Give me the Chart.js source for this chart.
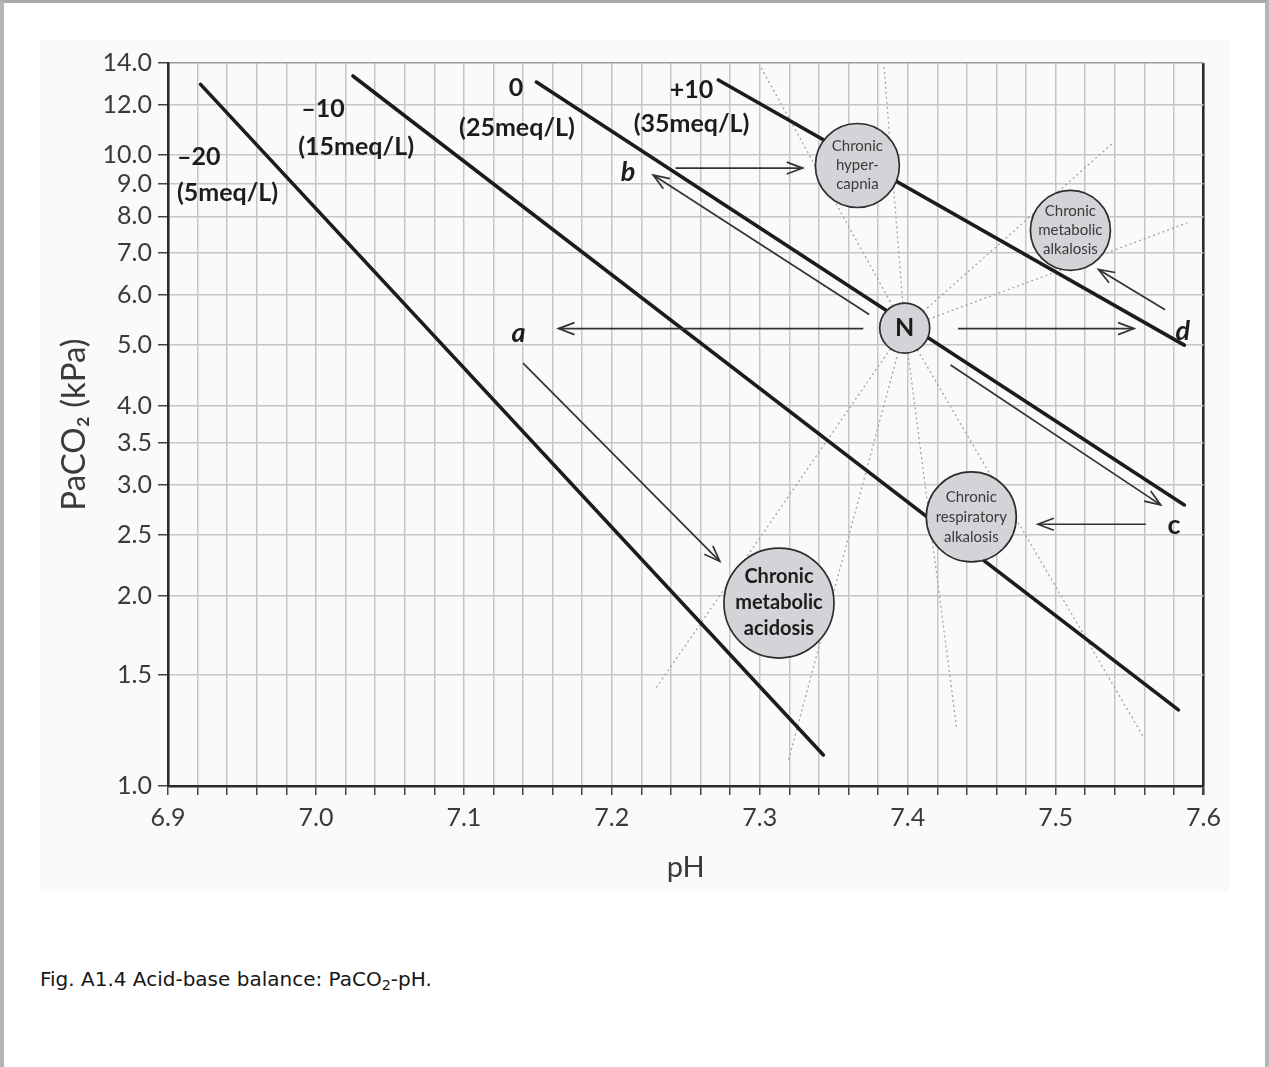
<!DOCTYPE html>
<html>
<head>
<meta charset="utf-8">
<title>Acid-base balance: PaCO2-pH</title>
<script src="https://cdn.jsdelivr.net/npm/chart.js@4.4.1/dist/chart.umd.min.js"></script>
<style>
  html, body { margin: 0; padding: 0; background: #fff; }
  body { width: 1269px; height: 1067px; position: relative; overflow: hidden; }
  .frame { position: absolute; left: 0; top: 0; width: 1269px; height: 1067px; box-sizing: border-box;
           border-top: 3px solid #a9a9a9; border-left: 4px solid #b5b5b5; border-right: 4px solid #b5b5b5; }
  .figure { position: absolute; left: 40px; top: 40px; width: 1189px; height: 852px; background: #fafafa; }
  .caption { position: absolute; left: 40px; top: 967px; font: 20px "DejaVu Sans", sans-serif; color: #161616; }
  .caption sub { font-size: 0.72em; vertical-align: -0.25em; }
</style>
</head>
<body>
<div class="frame"></div>
<div class="figure"><canvas id="acidBase"></canvas></div>
<div class="caption">Fig. A1.4 Acid-base balance: PaCO<sub>2</sub>-pH.</div>
<script>
/* DATA */
const phTicks = [6.9, 7.0, 7.1, 7.2, 7.3, 7.4, 7.5, 7.6];
const paco2Ticks = [1.0, 1.5, 2.0, 2.5, 3.0, 3.5, 4.0, 5.0, 6.0, 7.0, 8.0, 9.0, 10.0, 12.0, 14.0];

// base excess lines (straight on the log axis, so two ends are enough)
const excessNames = ['–20', '–10', '0', '+10'];
const bicarbNames = ['(5meq/L)', '(15meq/L)', '(25meq/L)', '(35meq/L)'];
const excessStartPH = [6.922, 7.025, 7.149, 7.272];
const excessStartPaCO2 = [12.95, 13.35, 13.06, 13.16];
const excessEndPH = [7.343, 7.583, 7.587, 7.587];
const excessEndPaCO2 = [1.12, 1.32, 2.79, 5.00];

// dotted bands, all leaving the normal point
const normalPH = 7.398;
const normalPaCO2 = 5.32;
const bandEndPH = [7.301, 7.384, 7.538, 7.589, 7.229, 7.319, 7.433, 7.559];
const bandEndPaCO2 = [13.75, 13.85, 10.42, 7.81, 1.42, 1.09, 1.24, 1.20];

// states
const stateNames = [
  ['N'],
  ['Chronic', 'hyper-', 'capnia'],
  ['Chronic', 'metabolic', 'alkalosis'],
  ['Chronic', 'respiratory', 'alkalosis'],
  ['Chronic', 'metabolic', 'acidosis']
];
const statePH = [7.398, 7.366, 7.510, 7.443, 7.313];
const statePaCO2 = [5.32, 9.63, 7.60, 2.67, 1.95];

// arrows N -> a -> ..., etc.
const arrowFromPH = [7.370, 7.140, 7.374, 7.243, 7.434, 7.574, 7.429, 7.561];
const arrowFromPaCO2 = [5.31, 4.68, 5.59, 9.54, 5.31, 5.69, 4.65, 2.60];
const arrowToPH = [7.164, 7.273, 7.228, 7.329, 7.553, 7.529, 7.571, 7.488];
const arrowToPaCO2 = [5.31, 2.27, 9.30, 9.54, 5.31, 6.59, 2.79, 2.60];

const pathNames = ['a', 'b', 'c', 'd'];
const pathPH = [7.137, 7.211, 7.580, 7.586];
const pathPaCO2 = [5.22, 9.41, 2.59, 5.25];

/* PLACEMENT / STYLE */
// where the line captions sit (pH, PaCO2 of the text centre)
const excessLabelSpots = [
  { ph: 6.906, top: 9.93, bottom: 8.71, align: 'left', phBottom: 6.906 },
  { ph: 6.990, top: 11.84, bottom: 10.30, align: 'left', phBottom: 6.988 },
  { ph: 7.1352, top: 12.78, bottom: 11.04, align: 'center', phBottom: 7.1359 },
  { ph: 7.2539, top: 12.69, bottom: 11.21, align: 'center', phBottom: 7.2539 }
];
const stateRadius = [25, 42, 40, 45, 55];
const stateFonts = ['bold 25px Lato', '15px Lato', '15px Lato', '15px Lato', 'bold 20px Lato'];
const stateLineGap = [0, 19, 19, 20, 26];
const pathFonts = ['italic bold 27px Lato', 'italic bold 27px Lato', 'bold 27px Lato', 'italic bold 27px Lato'];

const ink = '#1c1c1c';
const gridGrey = '#c6c6c6';

/* DATASETS */
const datasets = [];

bandEndPH.forEach((ph, i) => {
  datasets.push({
    data: [{ x: normalPH, y: normalPaCO2 }, { x: ph, y: bandEndPaCO2[i] }],
    borderColor: '#a3a3a3',
    borderWidth: 1.3,
    borderDash: [2, 3],
    pointRadius: 0,
    order: 3
  });
});

excessStartPH.forEach((ph, i) => {
  datasets.push({
    data: [{ x: ph, y: excessStartPaCO2[i] }, { x: excessEndPH[i], y: excessEndPaCO2[i] }],
    borderColor: ink,
    borderWidth: 3.6,
    borderCapStyle: 'round',
    pointRadius: 0,
    order: 2
  });
});

arrowFromPH.forEach((ph, i) => {
  datasets.push({
    data: [{ x: ph, y: arrowFromPaCO2[i] }, { x: arrowToPH[i], y: arrowToPaCO2[i] }],
    borderColor: '#333',
    borderWidth: 1.7,
    pointRadius: 0,
    order: 1
  });
});

datasets.push({
  type: 'scatter',
  data: statePH.map((ph, i) => ({ x: ph, y: statePaCO2[i] })),
  pointRadius: stateRadius,
  backgroundColor: '#d4d4d8',
  borderColor: '#2e2e2e',
  borderWidth: 1.7,
  order: 0
});

/* TEXT + ARROWHEADS */
const figureText = {
  id: 'figureText',
  afterDatasetsDraw(chart) {
    const { ctx } = chart;
    const x = chart.scales.x;
    const y = chart.scales.y;
    ctx.save();

    // open arrowheads
    ctx.strokeStyle = '#333';
    ctx.lineWidth = 1.7;
    arrowToPH.forEach((ph, i) => {
      const x0 = x.getPixelForValue(arrowFromPH[i]);
      const y0 = y.getPixelForValue(arrowFromPaCO2[i]);
      const x1 = x.getPixelForValue(ph);
      const y1 = y.getPixelForValue(arrowToPaCO2[i]);
      const ang = Math.atan2(y1 - y0, x1 - x0);
      ctx.beginPath();
      ctx.moveTo(x1 - 17 * Math.cos(ang - 0.36), y1 - 17 * Math.sin(ang - 0.36));
      ctx.lineTo(x1, y1);
      ctx.lineTo(x1 - 17 * Math.cos(ang + 0.36), y1 - 17 * Math.sin(ang + 0.36));
      ctx.stroke();
    });

    ctx.fillStyle = ink;
    ctx.textBaseline = 'middle';

    // base excess captions
    ctx.font = 'bold 25px Lato';
    excessNames.forEach((name, i) => {
      const s = excessLabelSpots[i];
      ctx.textAlign = s.align;
      ctx.fillText(name, x.getPixelForValue(s.ph), y.getPixelForValue(s.top));
      ctx.fillText(bicarbNames[i], x.getPixelForValue(s.phBottom), y.getPixelForValue(s.bottom));
    });

    // state circles
    ctx.textAlign = 'center';
    stateNames.forEach((lines, i) => {
      const cx = x.getPixelForValue(statePH[i]);
      const cy = y.getPixelForValue(statePaCO2[i]);
      ctx.font = stateFonts[i];
      ctx.fillStyle = i === 0 || i === 4 ? ink : '#3a3a3a';
      lines.forEach((t, k) => {
        ctx.fillText(t, cx, cy + (k - (lines.length - 1) / 2) * stateLineGap[i]);
      });
    });

    // a, b, c, d
    ctx.fillStyle = ink;
    pathNames.forEach((name, i) => {
      ctx.font = pathFonts[i];
      ctx.fillText(name, x.getPixelForValue(pathPH[i]), y.getPixelForValue(pathPaCO2[i]));
    });

    ctx.restore();
  }
};

/* CHART */
const ctx = document.getElementById('acidBase').getContext('2d');

const acidBaseChart = new Chart(ctx, {
  type: 'line',
  data: { datasets },
  options: {
    responsive: true,
    maintainAspectRatio: false,
    animation: false,
    events: [],
    layout: { autoPadding: false, padding: { left: 0, top: 23, right: 23, bottom: 0 } },
    plugins: {
      legend: { display: false },
      tooltip: { enabled: false }
    },
    scales: {
      x: {
        type: 'linear',
        min: 6.9,
        max: 7.6,
        afterBuildTicks(scale) {
          const ticks = [];
          for (let i = 0; i < phTicks.length; i++) {
            ticks.push({ value: phTicks[i] });
            if (i < phTicks.length - 1) {
              for (let k = 1; k < 5; k++) ticks.push({ value: +(phTicks[i] + k * 0.02).toFixed(2) });
            }
          }
          scale.ticks = ticks;
        },
        afterFit(scale) { scale.height = 106; },
        ticks: {
          autoSkip: false,
          maxRotation: 0,
          padding: 8,
          color: '#3a3a3a',
          font: { family: 'Lato', size: 25 },
          callback: v => phTicks.some(p => Math.abs(p - v) < 1e-6) ? v.toFixed(1) : ''
        },
        grid: {
          color: c => Math.abs(c.tick.value - 7.6) < 1e-6 ? '#2a2a2a' : gridGrey,
          lineWidth: c => Math.abs(c.tick.value - 7.6) < 1e-6 ? 2.6 : 1.5,
          tickColor: '#444',
          tickLength: 9
        },
        border: { color: '#2a2a2a', width: 2.6 },
        title: {
          display: true,
          text: 'pH',
          color: '#3a3a3a',
          font: { family: 'Lato', size: 29 },
          padding: { top: 0, bottom: 7 }
        }
      },
      y: {
        type: 'logarithmic',
        min: 1,
        max: 14,
        afterBuildTicks(scale) {
          scale.ticks = paco2Ticks.map(v => ({ value: v }));
        },
        afterFit(scale) { scale.width = 128; },
        ticks: {
          autoSkip: false,
          padding: 6,
          color: '#3a3a3a',
          font: { family: 'Lato', size: 25 },
          callback: v => Number(v).toFixed(1)
        },
        grid: {
          color: c => c.tick.value === 14 ? '#9a9a9a' : gridGrey,
          lineWidth: 1.5,
          tickColor: '#444',
          tickLength: 10
        },
        border: { color: '#2a2a2a', width: 2.6 },
        title: {
          display: true,
          text: 'PaCO₂ (kPa)',
          color: '#3a3a3a',
          font: { family: 'Lato', size: 33 },
          padding: { top: 15, bottom: 0 }
        }
      }
    }
  },
  plugins: [figureText]
});
</script>
</body>
</html>
